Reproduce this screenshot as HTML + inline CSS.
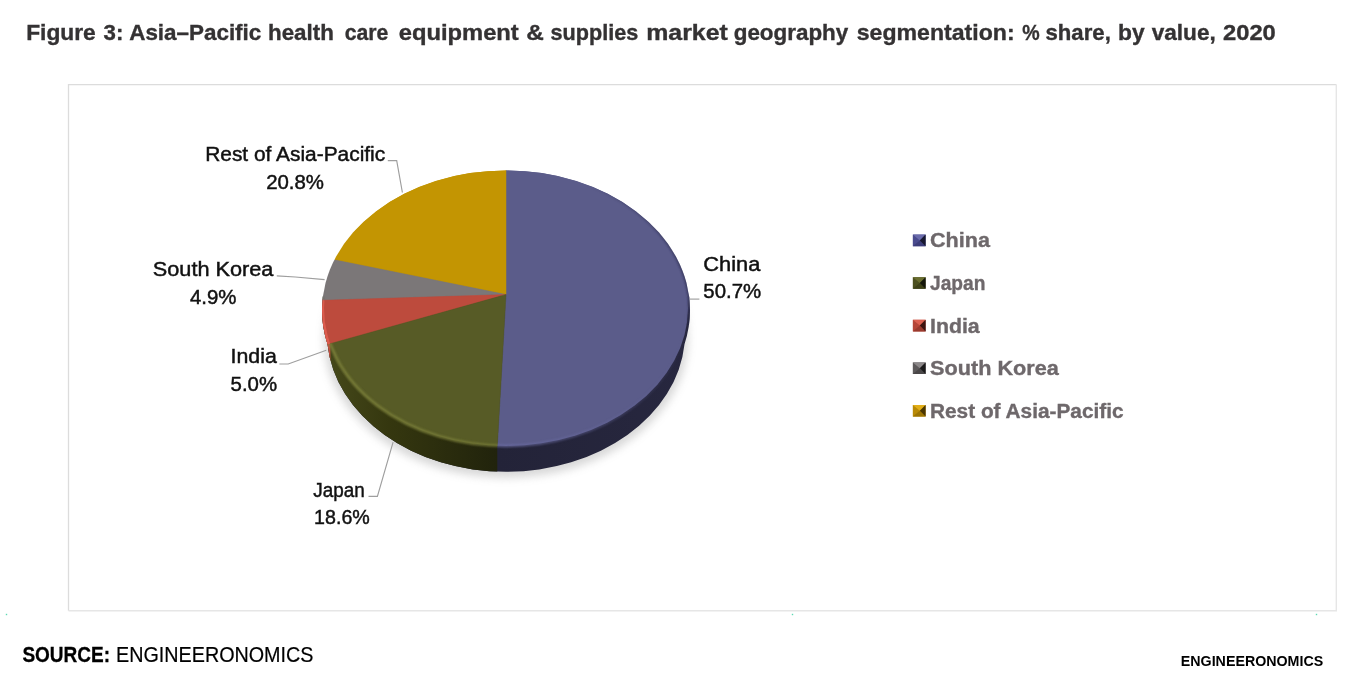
<!DOCTYPE html>
<html lang="en"><head><meta charset="utf-8"><title>Figure 3: Asia–Pacific health care equipment &amp; supplies market geography segmentation</title>
<style>
html,body{margin:0;padding:0;background:#fff;}
body{width:1359px;height:681px;overflow:hidden;font-family:"Liberation Sans",Arial,sans-serif;}
svg{display:block;filter:blur(0.45px);}
</style></head><body>
<svg width="1359" height="681" viewBox="0 0 1359 681">
<defs>
<filter id="blur" x="-20%" y="-20%" width="140%" height="140%"><feGaussianBlur stdDeviation="4"/></filter>
<filter id="b1" x="-5%" y="-5%" width="110%" height="110%"><feGaussianBlur stdDeviation="0.9"/></filter>
<clipPath id="cOut"><ellipse cx="506.0" cy="310.3" rx="184.0" ry="139.9"/></clipPath>
<clipPath id="cInn"><ellipse cx="506.0" cy="308.15" rx="182.0" ry="137.75"/></clipPath>
<clipPath id="cWall"><ellipse cx="506.0" cy="310.3" rx="184.0" ry="139.9"/><ellipse cx="506.0" cy="332.9" rx="179.1" ry="138.9"/><polygon points="322.0,310.3 690.0,310.3 685.1,332.9 326.9,332.9"/></clipPath>
<clipPath id="s_china"><path d="M506.0,294.6 L506.0,-78.0 L1242.0,-83.8 L1282.0,356.2 L1242.0,916.2 L722.0,996.2 L479.9,748.8 Z"/></clipPath>
<clipPath id="s_japan"><path d="M506.0,294.6 L479.9,748.8 L162.0,876.2 L-78.0,716.2 L-20.2,441.6 Z"/></clipPath>
<clipPath id="s_india"><path d="M506.0,294.6 L-20.2,441.6 L-44.2,311.7 Z"/></clipPath>
<clipPath id="s_korea"><path d="M506.0,294.6 L-44.2,311.7 L-6.1,190.8 Z"/></clipPath>
<clipPath id="s_rest"><path d="M506.0,294.6 L-6.1,190.8 L82.0,-123.8 L506.0,-78.0 Z"/></clipPath>
<linearGradient id="gU" gradientUnits="userSpaceOnUse" x1="0" y1="296" x2="0" y2="318"><stop offset="0" stop-color="#fff"/><stop offset="1" stop-color="#000"/></linearGradient>
<mask id="mU" maskUnits="userSpaceOnUse" x="300" y="150" width="420" height="340"><rect x="300" y="150" width="420" height="340" fill="url(#gU)"/></mask>
<linearGradient id="gJ" gradientUnits="userSpaceOnUse" x1="330" y1="0" x2="497" y2="0"><stop offset="0" stop-color="#45481a"/><stop offset="0.35" stop-color="#35370f"/><stop offset="1" stop-color="#21230c"/></linearGradient>
<linearGradient id="gC" gradientUnits="userSpaceOnUse" x1="497" y1="0" x2="690" y2="0"><stop offset="0" stop-color="#232338"/><stop offset="1" stop-color="#27273f"/></linearGradient>
<linearGradient id="gH" gradientUnits="userSpaceOnUse" x1="320" y1="0" x2="692" y2="0"><stop offset="0" stop-color="#fff" stop-opacity="1"/><stop offset="0.5" stop-color="#fff" stop-opacity="0.8"/><stop offset="0.85" stop-color="#fff" stop-opacity="0.25"/><stop offset="1" stop-color="#fff" stop-opacity="0"/></linearGradient>
<mask id="mH" maskUnits="userSpaceOnUse" x="300" y="150" width="420" height="340"><rect x="300" y="150" width="420" height="340" fill="url(#gH)"/><rect x="300" y="150" width="420" height="152" fill="#000"/></mask>
<linearGradient id="gR" gradientUnits="userSpaceOnUse" x1="585" y1="0" x2="690" y2="0"><stop offset="0" stop-color="#fff" stop-opacity="0"/><stop offset="1" stop-color="#fff" stop-opacity="0.9"/></linearGradient>
<mask id="mR" maskUnits="userSpaceOnUse" x="300" y="150" width="420" height="340"><rect x="560" y="150" width="160" height="175" fill="url(#gR)"/></mask>
</defs>
<rect width="1359" height="681" fill="#fff"/>
<path d="M68.5,610.7 L68.5,84.6 L1336.3,84.6" fill="none" stroke="#dcdcdc" stroke-width="1.3"/>
<path d="M1336.3,84.6 L1336.3,610.7 L68.5,610.7" fill="none" stroke="#e6e6e6" stroke-width="1.4"/>
<rect x="5.8" y="613.8" width="1.4" height="1.4" fill="#5fd9b5"/>
<rect x="791.8" y="613.8" width="1.4" height="1.4" fill="#5fd9b5"/>
<rect x="1315.8" y="613.8" width="1.4" height="1.4" fill="#5fd9b5"/>
<ellipse cx="506.0" cy="337.9" rx="182.1" ry="139.9" fill="#8c8c8c" opacity="0.34" filter="url(#blur)"/>
<g clip-path="url(#cWall)">
<rect x="300" y="296" width="410" height="194" fill="url(#gC)"/>
<rect x="300" y="296" width="197.3" height="194" fill="url(#gJ)"/>
<rect x="300" y="299" width="30.4" height="190" fill="#c24f41"/>
</g>
<g clip-path="url(#cOut)"><g mask="url(#mU)">
<path d="M506.0,294.6 L506.0,-78.0 L1242.0,-83.8 L1282.0,356.2 L1242.0,916.2 L722.0,996.2 L479.9,748.8 Z" fill="#5b5c8a" stroke="#5b5c8a" stroke-width="0.5"/>
<path d="M506.0,294.6 L-6.1,190.8 L82.0,-123.8 L506.0,-78.0 Z" fill="#c39502" stroke="#c39502" stroke-width="0.5"/>
<path d="M506.0,294.6 L-44.2,311.7 L-6.1,190.8 Z" fill="#7b7778" stroke="#7b7778" stroke-width="0.5"/>
</g>
<path d="M506.0,294.6 L-20.2,441.6 L-44.2,311.7 Z" fill="#dc5b4d"/>
</g>
<g clip-path="url(#cInn)">
<path d="M506.0,294.6 L506.0,-78.0 L1242.0,-83.8 L1282.0,356.2 L1242.0,916.2 L722.0,996.2 L479.9,748.8 Z" fill="#5b5c8a" stroke="#5b5c8a" stroke-width="0.5"/>
<path d="M506.0,294.6 L-6.1,190.8 L82.0,-123.8 L506.0,-78.0 Z" fill="#c39502" stroke="#c39502" stroke-width="0.5"/>
<path d="M506.0,294.6 L-44.2,311.7 L-6.1,190.8 Z" fill="#7b7778" stroke="#7b7778" stroke-width="0.5"/>
<path d="M506.0,294.6 L-20.2,441.6 L-44.2,311.7 Z" fill="#bd4b3d" stroke="#bd4b3d" stroke-width="0.5"/>
<path d="M506.0,294.6 L479.9,748.8 L162.0,876.2 L-78.0,716.2 L-20.2,441.6 Z" fill="#575b26" stroke="#575b26" stroke-width="0.5"/>
</g>
<g clip-path="url(#cOut)"><g mask="url(#mH)">
<g clip-path="url(#s_china)"><ellipse cx="506.0" cy="308.15" rx="182.0" ry="137.75" fill="none" stroke="#6b6ca2" stroke-width="2.7" filter="url(#b1)"/></g>
<g clip-path="url(#s_japan)"><ellipse cx="506.0" cy="308.15" rx="182.0" ry="137.75" fill="none" stroke="#7c803b" stroke-width="2.7" filter="url(#b1)"/></g>
</g></g>
<g clip-path="url(#cOut)"><g mask="url(#mR)"><ellipse cx="506.0" cy="310.3" rx="184.0" ry="139.9" fill="none" stroke="#2b2c4c" stroke-width="2.2" filter="url(#b1)"/></g></g>
<polyline points="387.8,160.6 396.7,160.6 402.4,192.5" fill="none" stroke="#9e9e9e" stroke-width="1.15"/>
<polyline points="276.8,275.9 295.4,277.0 324.6,279.6" fill="none" stroke="#9e9e9e" stroke-width="1.15"/>
<polyline points="279.3,364 288.2,364 326.3,350.2" fill="none" stroke="#9e9e9e" stroke-width="1.15"/>
<polyline points="368.5,496.4 377.4,496.4 393.1,442.1" fill="none" stroke="#9e9e9e" stroke-width="1.15"/>
<polyline points="689.7,299.1 699.4,299.1" fill="none" stroke="#9e9e9e" stroke-width="1.15"/>
<g><rect x="912.8" y="234.6" width="12.8" height="11.6" fill="#4a4b8e"/><polygon points="912.8,234.6 925.6,234.6 919.8,240.4" fill="#6a6bab"/><polygon points="912.8,246.2 925.6,246.2 919.8,240.4" fill="#3c3d7a"/><polygon points="925.6,234.6 925.6,246.2 919.8,240.4" fill="#17182f"/></g>
<g><rect x="912.8" y="277.2" width="12.8" height="11.6" fill="#4c5020"/><polygon points="912.8,277.2 925.6,277.2 919.8,283.0" fill="#6a6e30"/><polygon points="912.8,288.8 925.6,288.8 919.8,283.0" fill="#3d4118"/><polygon points="925.6,277.2 925.6,288.8 919.8,283.0" fill="#14160a"/></g>
<g><rect x="912.8" y="319.8" width="12.8" height="11.6" fill="#b54638"/><polygon points="912.8,319.8 925.6,319.8 919.8,325.6" fill="#dc6050"/><polygon points="912.8,331.4 925.6,331.4 919.8,325.6" fill="#9a3a2e"/><polygon points="925.6,319.8 925.6,331.4 919.8,325.6" fill="#3c1410"/></g>
<g><rect x="912.8" y="362.4" width="12.8" height="11.6" fill="#5c595a"/><polygon points="912.8,362.4 925.6,362.4 919.8,368.2" fill="#8c8889"/><polygon points="912.8,374.0 925.6,374.0 919.8,368.2" fill="#4a4748"/><polygon points="925.6,362.4 925.6,374.0 919.8,368.2" fill="#1a1919"/></g>
<g><rect x="912.8" y="405.0" width="12.8" height="11.6" fill="#b98a06"/><polygon points="912.8,405.0 925.6,405.0 919.8,410.8" fill="#e2ae18"/><polygon points="912.8,416.6 925.6,416.6 919.8,410.8" fill="#9c7404"/><polygon points="925.6,405.0 925.6,416.6 919.8,410.8" fill="#4a3602"/></g>
<g font-family="'Liberation Sans', Arial, sans-serif">
<text y="40" font-size="22" font-weight="bold" fill="#343233" stroke="#343233" stroke-width="0.35"><tspan x="26.2" textLength="69.6" lengthAdjust="spacingAndGlyphs">Figure</tspan> <tspan x="103.5" textLength="19.8" lengthAdjust="spacingAndGlyphs">3:</tspan> <tspan x="129.2" textLength="132.1" lengthAdjust="spacingAndGlyphs">Asia–Pacific</tspan> <tspan x="268.0" textLength="65.8" lengthAdjust="spacingAndGlyphs">health</tspan> <tspan x="344.7" textLength="43.6" lengthAdjust="spacingAndGlyphs">care</tspan> <tspan x="398.7" textLength="120.1" lengthAdjust="spacingAndGlyphs">equipment</tspan> <tspan x="526.2" textLength="17.6" lengthAdjust="spacingAndGlyphs">&amp;</tspan> <tspan x="550.5" textLength="87.8" lengthAdjust="spacingAndGlyphs">supplies</tspan> <tspan x="646.2" textLength="81.6" lengthAdjust="spacingAndGlyphs">market</tspan> <tspan x="733.7" textLength="114.6" lengthAdjust="spacingAndGlyphs">geography</tspan> <tspan x="856.7" textLength="157.9" lengthAdjust="spacingAndGlyphs">segmentation:</tspan> <tspan x="1022.2" textLength="17.4" lengthAdjust="spacingAndGlyphs">%</tspan> <tspan x="1045.5" textLength="65.3" lengthAdjust="spacingAndGlyphs">share,</tspan> <tspan x="1118.0" textLength="26.6" lengthAdjust="spacingAndGlyphs">by</tspan> <tspan x="1151.7" textLength="64.1" lengthAdjust="spacingAndGlyphs">value,</tspan> <tspan x="1223.0" textLength="52.8" lengthAdjust="spacingAndGlyphs">2020</tspan></text>
<text x="205.2" y="161.2" font-size="20" font-weight="normal" fill="#111" stroke="#111" stroke-width="0.45" textLength="180.0" lengthAdjust="spacingAndGlyphs">Rest of Asia-Pacific</text>
<text x="266.2" y="188.9" font-size="20" font-weight="normal" fill="#111" stroke="#111" stroke-width="0.45" textLength="57.8" lengthAdjust="spacingAndGlyphs">20.8%</text>
<text x="152.8" y="276.4" font-size="20" font-weight="normal" fill="#111" stroke="#111" stroke-width="0.45" textLength="120.6" lengthAdjust="spacingAndGlyphs">South Korea</text>
<text x="190.0" y="304.0" font-size="20" font-weight="normal" fill="#111" stroke="#111" stroke-width="0.45" textLength="46.5" lengthAdjust="spacingAndGlyphs">4.9%</text>
<text x="230.6" y="363.4" font-size="20" font-weight="normal" fill="#111" stroke="#111" stroke-width="0.45" textLength="46.2" lengthAdjust="spacingAndGlyphs">India</text>
<text x="230.6" y="391.2" font-size="20" font-weight="normal" fill="#111" stroke="#111" stroke-width="0.45" textLength="46.5" lengthAdjust="spacingAndGlyphs">5.0%</text>
<text x="313.3" y="496.7" font-size="20" font-weight="normal" fill="#111" stroke="#111" stroke-width="0.45" textLength="51.4" lengthAdjust="spacingAndGlyphs">Japan</text>
<text x="314.1" y="524.4" font-size="20" font-weight="normal" fill="#111" stroke="#111" stroke-width="0.45" textLength="55.7" lengthAdjust="spacingAndGlyphs">18.6%</text>
<text x="703.3" y="270.8" font-size="20" font-weight="normal" fill="#111" stroke="#111" stroke-width="0.45" textLength="57.0" lengthAdjust="spacingAndGlyphs">China</text>
<text x="703.3" y="298.3" font-size="20" font-weight="normal" fill="#111" stroke="#111" stroke-width="0.45" textLength="57.8" lengthAdjust="spacingAndGlyphs">50.7%</text>
<text x="930.0" y="247.4" font-size="20" font-weight="bold" fill="#6e686b" stroke="#6e686b" stroke-width="0.35" textLength="59.9" lengthAdjust="spacingAndGlyphs">China</text>
<text x="930.0" y="290.0" font-size="20" font-weight="bold" fill="#6e686b" stroke="#6e686b" stroke-width="0.35" textLength="55.4" lengthAdjust="spacingAndGlyphs">Japan</text>
<text x="930.0" y="332.6" font-size="20" font-weight="bold" fill="#6e686b" stroke="#6e686b" stroke-width="0.35" textLength="49.7" lengthAdjust="spacingAndGlyphs">India</text>
<text x="930.0" y="375.2" font-size="20" font-weight="bold" fill="#6e686b" stroke="#6e686b" stroke-width="0.35" textLength="128.8" lengthAdjust="spacingAndGlyphs">South Korea</text>
<text x="930.0" y="417.8" font-size="20" font-weight="bold" fill="#6e686b" stroke="#6e686b" stroke-width="0.35" textLength="193.6" lengthAdjust="spacingAndGlyphs">Rest of Asia-Pacific</text>
<text x="22.4" y="662" font-size="22" font-weight="bold" fill="#000" stroke="#000" stroke-width="0.3" textLength="87.7" lengthAdjust="spacingAndGlyphs">SOURCE:</text>
<text x="116.0" y="662" font-size="22" font-weight="normal" fill="#000" stroke="#000" stroke-width="0.2" textLength="197.5" lengthAdjust="spacingAndGlyphs">ENGINEERONOMICS</text>
<text x="1180.8" y="666.4" font-size="14.2" font-weight="bold" fill="#000" textLength="142.4" lengthAdjust="spacingAndGlyphs">ENGINEERONOMICS</text>
</g>
</svg>
</body></html>
